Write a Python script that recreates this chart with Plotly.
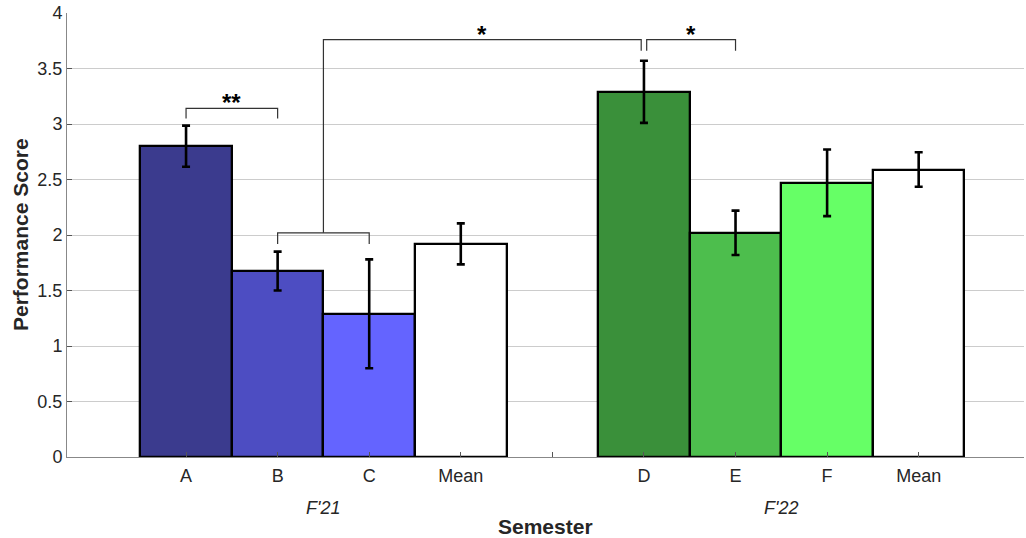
import plotly.graph_objects as go

# ---- data ----
categories = ["A", "B", "C", "Mean", "D", "E", "F", "Mean"]
positions = [1, 2, 3, 4, 6, 7, 8, 9]
scores = [2.80, 1.675, 1.29, 1.92, 3.29, 2.02, 2.47, 2.59]
errors = [0.185, 0.175, 0.49, 0.185, 0.28, 0.20, 0.30, 0.155]
colors = ["#3b3b8e", "#4d4dc2", "#6464ff", "#ffffff", "#3a903a", "#4dbe4d", "#66ff66", "#ffffff"]
groups = ["F'21", "F'22"]
group_centers = [2.5, 7.5]
tick_vals = [1, 2, 3, 4, 5, 6, 7, 8, 9]
tick_text = ["A", "B", "C", "Mean", "", "D", "E", "F", "Mean"]
x_title = "Semester"
y_title = "Performance Score"

# significance brackets: (x_left, x_right, top, leg_bottom_left, leg_bottom_right, label)
brackets = [
    (1, 2, 3.14, 3.05, 3.05, "**"),
    (2, 3, 2.02, 1.92, 1.92, ""),
    (2.5, 5.97, 3.76, 2.02, 3.66, "*"),
    (6.03, 7, 3.76, 3.66, 3.66, "*"),
]

FONT = "Liberation Sans"
TXT = "#262626"
X_RANGE = [-0.3, 10.15]

fig = go.Figure()
fig.add_trace(go.Bar(
    x=positions, y=scores, width=1.0,
    marker=dict(color=colors, line=dict(color="black", width=2.3)),
    error_y=dict(type="data", array=errors, color="black", thickness=2.6, width=4),
    showlegend=False, hoverinfo="skip",
))

shapes = []
annotations = []
for xl, xr, top, bl, br, lab in brackets:
    shapes.append(dict(type="path", xref="x", yref="y",
                       path=f"M {xl},{bl} L {xl},{top} L {xr},{top} L {xr},{br}",
                       line=dict(color="#333333", width=1.2)))
    if lab:
        annotations.append(dict(x=(xl + xr) / 2, y=top, xref="x", yref="y", text=f"<b>{lab}</b>",
                                showarrow=False, yanchor="bottom", yshift=-10,
                                font=dict(size=24, color="black", family=FONT)))

for g, c in zip(groups, group_centers):
    annotations.append(dict(x=c, y=0, xref="x", yref="paper", text=f"<i>{g}</i>",
                            showarrow=False, yanchor="middle", yshift=-51,
                            font=dict(size=18, color=TXT, family=FONT)))

annotations.append(dict(x=sum(X_RANGE) / 2, y=0, xref="x", yref="paper",
                        text=f"<b>{x_title}</b>", showarrow=False, yanchor="middle", yshift=-69,
                        font=dict(size=21, color=TXT, family=FONT)))
annotations.append(dict(x=0, y=0.5, xref="paper", yref="paper", xanchor="center",
                        text=f"<b>{y_title}</b>", showarrow=False, textangle=-90, xshift=-47,
                        font=dict(size=21, color=TXT, family=FONT)))

fig.update_layout(
    width=1026, height=538,
    margin=dict(l=67, r=2, t=13, b=81, autoexpand=False),
    paper_bgcolor="white", plot_bgcolor="white",
    bargap=0,
    shapes=shapes,
    annotations=annotations,
    font=dict(family=FONT, color=TXT),
    xaxis=dict(
        range=X_RANGE, tickmode="array", tickvals=tick_vals, ticktext=tick_text,
        ticks="inside", ticklen=5, tickcolor="#555555", showgrid=False,
        showline=True, linecolor="#888888", linewidth=1,
        tickfont=dict(size=18, color=TXT), automargin=False, ticklabelstandoff=2,
        zeroline=False,
    ),
    yaxis=dict(
        range=[0, 4], dtick=0.5, ticks="inside", ticklen=5, tickcolor="#555555",
        showgrid=True, gridcolor="#cccccc", gridwidth=1,
        showline=True, linecolor="#888888", linewidth=1,
        tickfont=dict(size=18, color=TXT), automargin=False,
        zeroline=False,
    ),
)

fig.write_html("out.html", config={"displayModeBar": False},
               post_script="document.body.style.margin='0';document.body.style.overflow='hidden';")
